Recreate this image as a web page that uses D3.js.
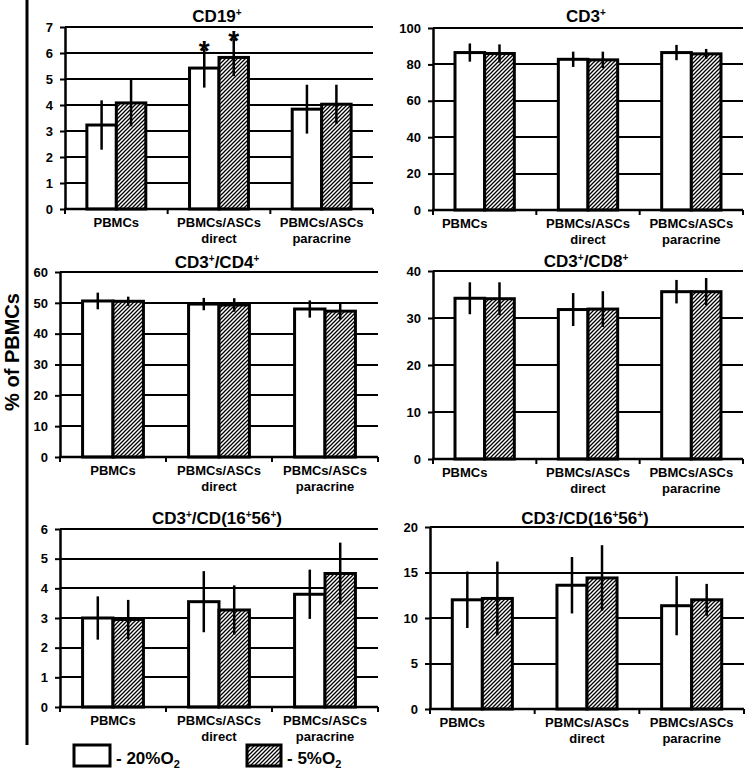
<!DOCTYPE html>
<html>
<head>
<meta charset="utf-8">
<script src="https://cdn.jsdelivr.net/npm/d3@7"></script>
<style>
  body { margin: 0; background: #fff; }
  text { font-family: "Liberation Sans", Arial, sans-serif; font-weight: bold; fill: #000; }
</style>
</head>
<body>
<script>
// data
const categories = ["PBMCs", "PBMCs/ASCs direct", "PBMCs/ASCs paracrine"]
const categoryLines = [["PBMCs"], ["PBMCs/ASCs", "direct"], ["PBMCs/ASCs", "paracrine"]]
const panelTitles = ["CD19^+", "CD3^+", "CD3^+/CD4^+", "CD3^+/CD8^+", "CD3^+/CD(16^+56^+)", "CD3^-/CD(16^+56^+)"]
const yMax = [7, 100, 60, 40, 6, 20]
const yStep = [1, 20, 10, 10, 1, 5]

const o2_20 = [
  [3.23, 5.42, 3.84],
  [86.5, 82.8, 86.5],
  [50.6, 49.6, 48.0],
  [34.2, 31.8, 35.6],
  [3.0, 3.55, 3.8],
  [12.0, 13.6, 11.35]
]
const o2_20Err = [
  [0.95, 0.75, 0.94],
  [5, 4.2, 4.2],
  [2.7, 2.0, 2.8],
  [3.4, 3.5, 2.5],
  [0.73, 1.03, 0.83],
  [3.1, 3.1, 3.25]
]
const o2_5 = [
  [4.08, 5.83, 4.03],
  [86.0, 82.5, 85.8],
  [50.5, 49.3, 47.3],
  [34.1, 31.9, 35.6],
  [2.95, 3.27, 4.5],
  [12.15, 14.4, 12.0]
]
const o2_5Err = [
  [0.9, 0.72, 0.75],
  [5, 4.5, 2.7],
  [1.5, 2.2, 2.7],
  [3.5, 3.8, 2.9],
  [0.66, 0.83, 1.04],
  [4.05, 3.6, 1.75]
]
// [panel, series, category] marked with *
const significant = [[0, "20", 1], [0, "5", 1]]

// plot boxes
const layout = [
  { x0: 65, x1: 373, yTop: 27, yBot: 209, titleY: 22, firstShift: 0 },
  { x0: 433, x1: 743, yTop: 28, yBot: 210, titleY: 22, firstShift: -20 },
  { x0: 60, x1: 378, yTop: 272, yBot: 457, titleY: 268, firstShift: 0 },
  { x0: 433, x1: 743, yTop: 271, yBot: 459, titleY: 267, firstShift: -20 },
  { x0: 60, x1: 378, yTop: 529, yBot: 707, titleY: 524, firstShift: 0 },
  { x0: 430, x1: 744, yTop: 527, yBot: 709, titleY: 524, firstShift: -20 }
]

const svg = d3.select("body").append("svg")
  .attr("width", 746)
  .attr("height", 771)

const defs = svg.append("defs")
const pat = defs.append("pattern")
  .attr("id", "hatch")
  .attr("patternUnits", "userSpaceOnUse")
  .attr("width", 4)
  .attr("height", 4)
pat.append("rect").attr("width", 4).attr("height", 4).attr("fill", "#fff")
pat.append("path")
  .attr("d", "M-1,1 l2,-2 M0,4 l4,-4 M3,5 l2,-2")
  .attr("stroke", "#000")
  .attr("stroke-width", 1.3)

function addSup(sel, str, size, shift) {
  const parts = str.split(/(\^.)/).filter(Boolean)
  let up = false
  parts.forEach((p) => {
    if (p[0] === "^") {
      sel.append("tspan").attr("font-size", size).attr("dy", -shift).text(p[1])
      up = true
    } else {
      sel.append("tspan").attr("dy", up ? shift : 0).text(p)
      up = false
    }
  })
}

layout.forEach((L, i) => {
  const g = svg.append("g")

  const y = d3.scaleLinear().domain([0, yMax[i]]).range([L.yBot, L.yTop])
  const x = d3.scaleBand().domain(categories).range([L.x0, L.x1])
  const xs = d3.scaleBand()
    .domain(["20", "5"])
    .range([x.bandwidth() * 0.213, x.bandwidth() * 0.787])

  const ticks = d3.range(0, yMax[i] + yStep[i] / 2, yStep[i])

  // gridlines
  g.selectAll("line.grid")
    .data(ticks.filter((t) => t > 0))
    .enter()
    .append("line")
    .attr("class", "grid")
    .attr("x1", L.x0)
    .attr("x2", L.x1)
    .attr("y1", (d) => Math.round(y(d)))
    .attr("y2", (d) => Math.round(y(d)))
    .attr("stroke", "#000")
    .attr("stroke-width", 2)

  const rows = []
  categories.forEach((c, j) => {
    rows.push({ c, s: "20", v: o2_20[i][j], e: o2_20Err[i][j] })
    rows.push({ c, s: "5", v: o2_5[i][j], e: o2_5Err[i][j] })
  })

  g.selectAll("rect.bar")
    .data(rows)
    .enter()
    .append("rect")
    .attr("class", "bar")
    .attr("x", (d) => x(d.c) + xs(d.s))
    .attr("width", xs.bandwidth())
    .attr("y", (d) => y(d.v))
    .attr("height", (d) => y(0) - y(d.v))
    .attr("fill", (d) => (d.s === "20" ? "#fff" : "url(#hatch)"))
    .attr("stroke", "#000")
    .attr("stroke-width", 3)

  g.selectAll("line.err")
    .data(rows)
    .enter()
    .append("line")
    .attr("class", "err")
    .attr("x1", (d) => x(d.c) + xs(d.s) + xs.bandwidth() / 2)
    .attr("x2", (d) => x(d.c) + xs(d.s) + xs.bandwidth() / 2)
    .attr("y1", (d) => y(d.v + d.e))
    .attr("y2", (d) => y(d.v - d.e))
    .attr("stroke", "#000")
    .attr("stroke-width", 2.5)

  // significance stars
  significant.filter((s) => s[0] === i).forEach((s) => {
    const d = rows.find((r) => r.s === s[1] && r.c === categories[s[2]])
    g.append("text")
      .attr("x", x(d.c) + xs(d.s) + xs.bandwidth() / 2)
      .attr("y", y(d.v + d.e) + 11)
      .attr("text-anchor", "middle")
      .attr("font-size", 28)
      .attr("font-weight", "normal")
      .text("*")
  })

  // y axis
  const yAxis = g.append("g")
    .attr("transform", `translate(${L.x0},0)`)
    .call(d3.axisLeft(y).tickValues(ticks).tickFormat(d3.format("d"))
      .tickSize(5).tickSizeOuter(0).tickPadding(7))
  yAxis.select(".domain").attr("stroke", "#000").attr("stroke-width", 2.5)
  yAxis.selectAll(".tick line").attr("stroke", "#000").attr("stroke-width", 2)
  yAxis.selectAll(".tick text")
    .attr("font-size", 13)
    .attr("font-family", '"Liberation Sans", Arial, sans-serif')
    .attr("font-weight", "bold")
    .attr("fill", "#000")

  // x axis with ticks on the band edges
  const edges = categories.map((c) => x(c)).concat([L.x1])
  g.append("line")
    .attr("x1", L.x0 - 1)
    .attr("x2", L.x1)
    .attr("y1", y(0))
    .attr("y2", y(0))
    .attr("stroke", "#000")
    .attr("stroke-width", 2.5)
  g.selectAll("line.xtick")
    .data(edges)
    .enter()
    .append("line")
    .attr("class", "xtick")
    .attr("x1", (d) => d)
    .attr("x2", (d) => d)
    .attr("y1", y(0))
    .attr("y2", y(0) + 5)
    .attr("stroke", "#000")
    .attr("stroke-width", 2)

  categories.forEach((c, j) => {
    const cx = x(c) + x.bandwidth() / 2 + (j === 0 ? L.firstShift : 0)
    const t = g.append("text")
      .attr("x", cx)
      .attr("y", y(0) + 18)
      .attr("text-anchor", "middle")
      .attr("font-size", 13)
    categoryLines[j].forEach((line, k) => {
      t.append("tspan")
        .attr("x", cx)
        .attr("dy", k === 0 ? 0 : 16)
        .text(line)
    })
  })

  // title
  const title = g.append("text")
    .attr("x", (L.x0 + L.x1) / 2 - 2)
    .attr("y", L.titleY)
    .attr("text-anchor", "middle")
    .attr("font-size", 17)
  addSup(title, panelTitles[i], 10, 6)
})

// left rule and shared y label
svg.append("line")
  .attr("x1", 27).attr("x2", 27)
  .attr("y1", 0).attr("y2", 745)
  .attr("stroke", "#000")
  .attr("stroke-width", 3)

svg.append("text")
  .attr("transform", "translate(19,352) rotate(-90)")
  .attr("text-anchor", "middle")
  .attr("font-size", 20)
  .text("% of PBMCs")

// legend
const legendItems = [
  { fill: "#fff", label: "- 20%O", x: 74, w: 36 },
  { fill: "url(#hatch)", label: "- 5%O", x: 247, w: 34 }
]
const lg = svg.append("g")
lg.selectAll("rect")
  .data(legendItems)
  .enter()
  .append("rect")
  .attr("x", (d) => d.x)
  .attr("y", 745)
  .attr("width", (d) => d.w)
  .attr("height", 21)
  .attr("fill", (d) => d.fill)
  .attr("stroke", "#000")
  .attr("stroke-width", 3)
lg.selectAll("text")
  .data(legendItems)
  .enter()
  .append("text")
  .attr("x", (d) => d.x + d.w + 6)
  .attr("y", 764)
  .attr("font-size", 17)
  .each(function (d) {
    const t = d3.select(this)
    t.append("tspan").text(d.label)
    t.append("tspan").attr("font-size", 11).attr("dy", 4).text("2")
  })
</script>
</body>
</html>
